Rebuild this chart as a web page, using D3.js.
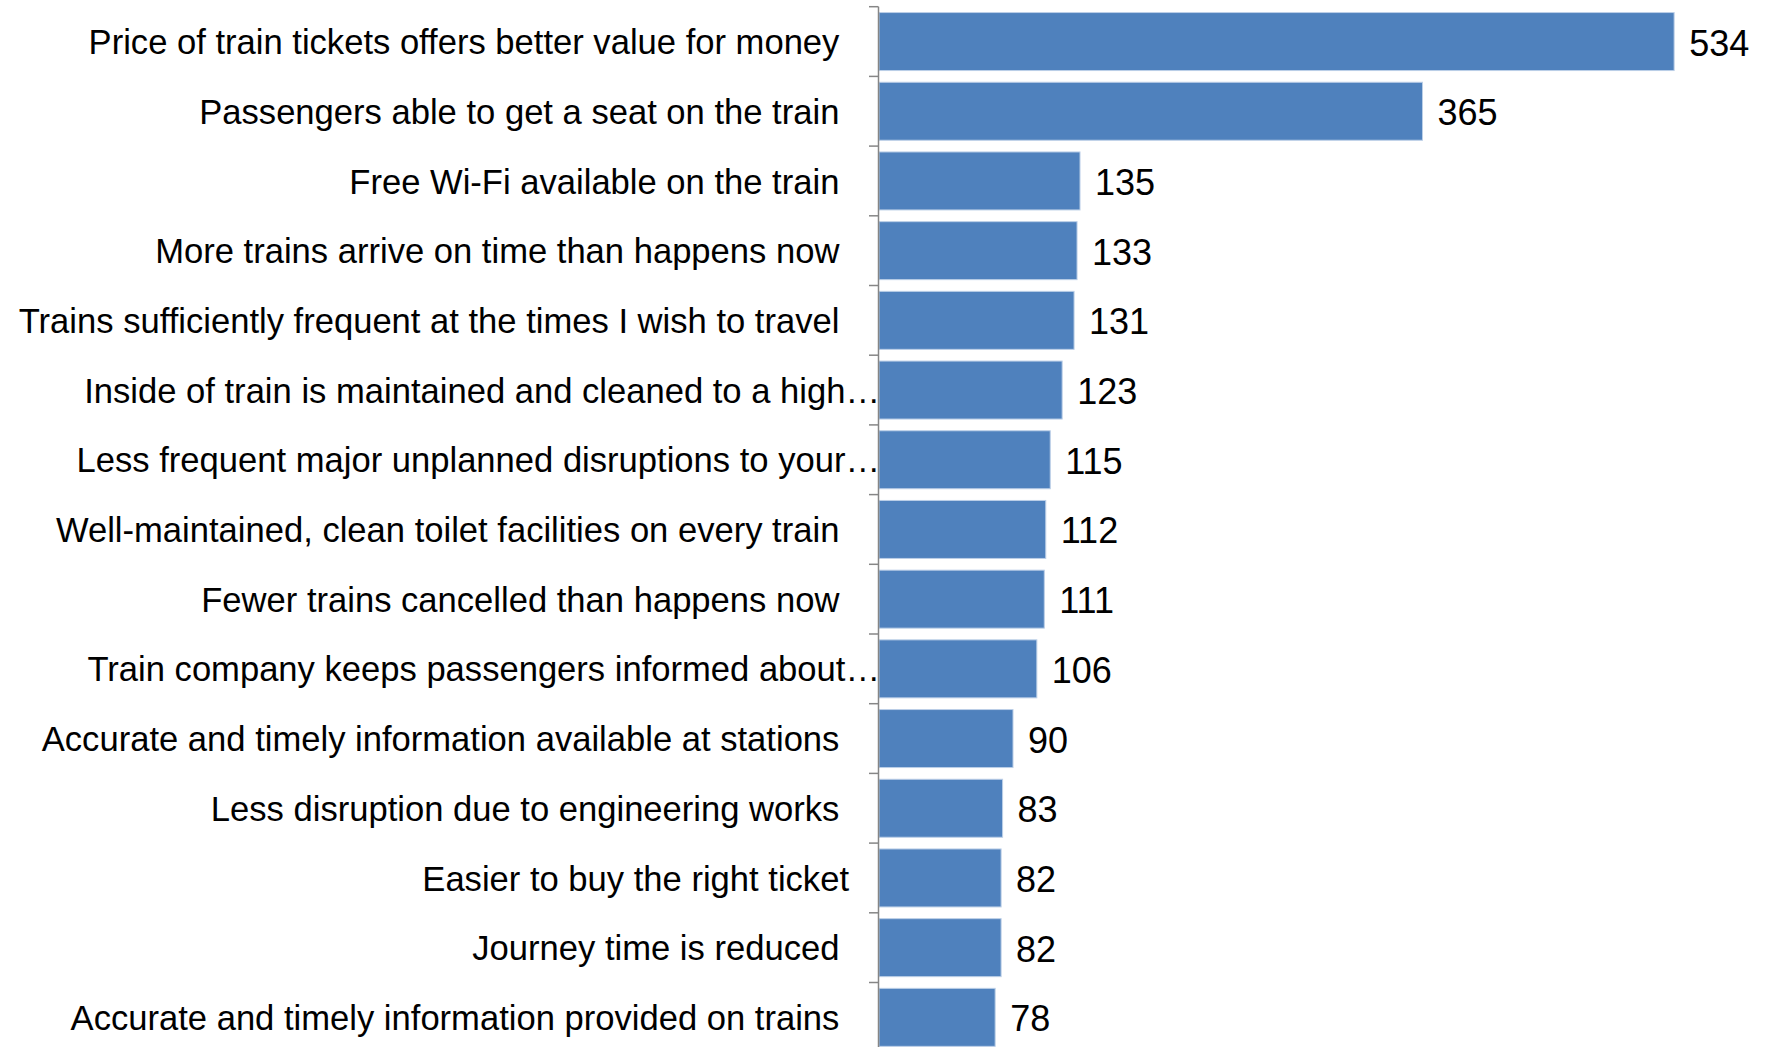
<!DOCTYPE html>
<html>
<head>
<meta charset="utf-8">
<script src="https://cdn.jsdelivr.net/npm/d3@7"></script>
<style>
  html, body { margin: 0; padding: 0; background: #ffffff; }
  svg { display: block; }
  text { font-family: "Liberation Sans", Arial, sans-serif; fill: #000000; }
</style>
</head>
<body>
<script>
// Reasons given for choosing rail: number of mentions per improvement
const categories = [
  "Price of train tickets offers better value for money ",
  "Passengers able to get a seat on the train ",
  "Free Wi-Fi available on the train ",
  "More trains arrive on time than happens now ",
  "Trains sufficiently frequent at the times I wish to travel ",
  "Inside of train is maintained and cleaned to a high\u2026",
  "Less frequent major unplanned disruptions to your\u2026",
  "Well-maintained, clean toilet facilities on every train ",
  "Fewer trains cancelled than happens now ",
  "Train company keeps passengers informed about\u2026",
  "Accurate and timely information available at stations ",
  "Less disruption due to engineering works ",
  "Easier to buy the right ticket",
  "Journey time is reduced ",
  "Accurate and timely information provided on trains "
];
const values = [534, 365, 135, 133, 131, 123, 115, 112, 111, 106, 90, 83, 82, 82, 78];
const xDomain = [0, 600];

const W = 1766, H = 1047;
const plot = { left: 879, right: 1772.4, top: 6.7, bottom: 1052.2 };

const svg = d3.select("body").append("svg")
  .attr("width", W).attr("height", H);

const x = d3.scaleLinear().domain(xDomain).range([plot.left, plot.right]);
const y = d3.scaleBand()
  .domain(categories)
  .range([plot.top, plot.bottom])
  .paddingInner(0.168)
  .paddingOuter(0.084);

const step = y.step();
const rows = categories.map((c, i) => ({ c, v: values[i] }));

// Bars
svg.append("g").selectAll("rect")
  .data(rows)
  .join("rect")
  .attr("x", x(0))
  .attr("y", d => y(d.c))
  .attr("width", d => x(d.v) - x(0))
  .attr("height", y.bandwidth())
  .attr("fill", "#4f81bd")
  .attr("stroke", "#bccfe7")
  .attr("stroke-width", 1);

// Category axis: line and tick marks between bands
const axis = svg.append("g");
axis.append("line")
  .attr("x1", x(0) - 0.5).attr("x2", x(0) - 0.5)
  .attr("y1", plot.top).attr("y2", plot.bottom)
  .attr("stroke", "#868686").attr("stroke-width", 1.5);
axis.selectAll("line.tick")
  .data(d3.range(categories.length + 1))
  .join("line")
  .attr("class", "tick")
  .attr("x1", x(0) - 10).attr("x2", x(0) - 0.5)
  .attr("y1", i => plot.top + i * step)
  .attr("y2", i => plot.top + i * step)
  .attr("stroke", "#868686").attr("stroke-width", 1.5);

// Category labels
svg.append("g").selectAll("text")
  .data(rows)
  .join("text")
  .attr("xml:space", "preserve")
  .style("white-space", "pre")
  .attr("x", d => d.c.endsWith("\u2026") ? x(0) + 1 : x(0) - 30)
  .attr("y", d => y(d.c) + y.bandwidth() / 2 + 12.6)
  .attr("text-anchor", "end")
  .attr("font-size", "34.6px")
  .text(d => d.c);

// Value labels
svg.append("g").selectAll("text")
  .data(rows)
  .join("text")
  .attr("x", d => x(d.v) + 15)
  .attr("y", d => y(d.c) + y.bandwidth() / 2 + 14)
  .attr("font-size", "36px")
  .text(d => d.v);
</script>
</body>
</html>
